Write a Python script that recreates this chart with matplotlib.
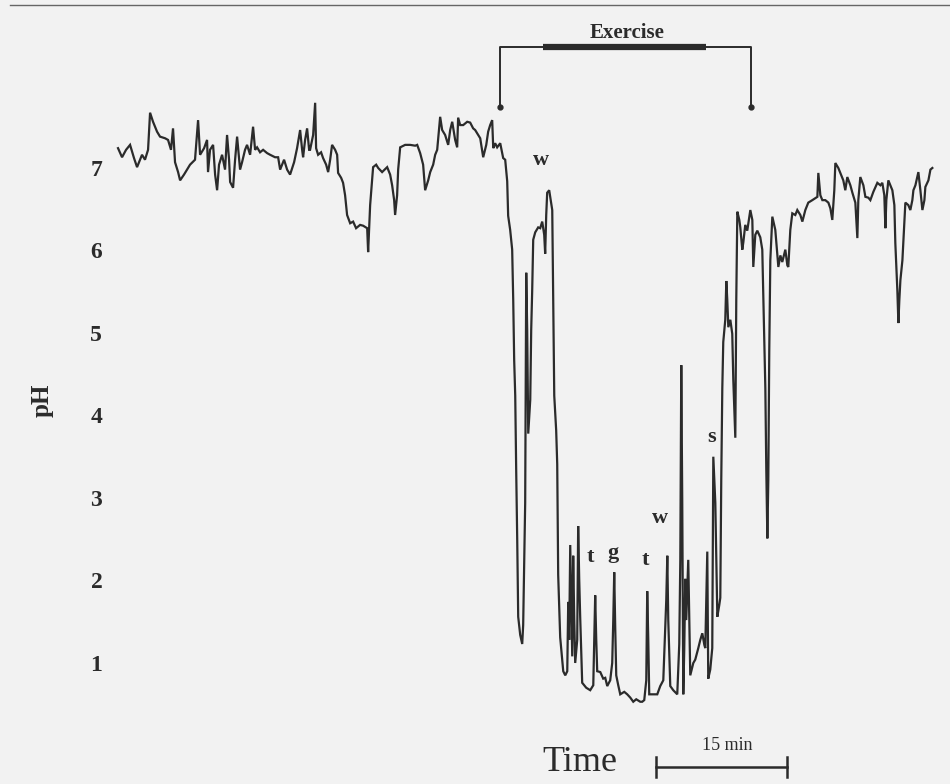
import numpy as np
import matplotlib
matplotlib.use('Agg')
import matplotlib.pyplot as plt
from matplotlib.lines import Line2D

plt.rcParams['font.family'] = ['Liberation Serif', 'DejaVu Serif']

# time (min) and oesophageal pH
time_min = [
    0.00, 0.46, 0.92, 1.38, 1.83, 2.18, 2.75, 3.09, 3.44, 3.67, 4.01, 4.47, 4.81, 5.39, 5.73,
    6.07, 6.30, 6.53, 6.88, 7.11, 7.56, 8.25, 8.82, 9.17, 9.40, 9.86, 10.20, 10.31, 10.54, 10.89,
    11.12, 11.35, 11.57, 11.92, 12.26, 12.49, 12.72, 12.84, 13.18, 13.41, 13.64, 13.98, 14.21, 14.55, 14.78,
    15.13, 15.47, 15.70, 15.93, 16.27, 16.62, 17.08, 17.42, 17.99, 18.34, 18.57, 19.02, 19.37, 19.71, 20.17,
    20.51, 20.86, 21.09, 21.20, 21.43, 21.66, 21.89, 22.00, 22.35, 22.58, 22.69, 22.92,
    23.26, 23.49, 23.84, 24.07, 24.30, 24.52, 24.87, 25.10, 25.21, 25.56, 25.78, 26.01, 26.24, 26.59, 26.93,
    27.27, 27.73, 28.08, 28.54, 28.65, 28.76, 28.88, 29.11, 29.22, 29.57, 29.80, 30.25, 30.83, 31.17, 31.40,
    31.63, 31.74, 31.97, 32.09, 32.32, 32.89, 33.46, 34.04, 34.27, 34.61, 34.95, 35.18, 35.53, 35.76, 36.10,
    36.33, 36.56, 36.90, 37.13, 37.47, 37.82, 38.05, 38.28, 38.62, 38.85, 38.96, 39.19, 39.54, 40.00, 40.34,
    40.68, 40.91, 41.26, 41.49, 41.83, 42.18, 42.40, 42.63, 42.86, 42.98, 43.20, 43.43, 43.78, 44.12, 44.35,
    44.58, 44.69, 44.92, 45.15,
    45.27, 45.38, 45.50, 45.61, 45.73, 45.84, 46.07, 46.30, 46.41, 46.53, 46.64, 46.76, 46.87, 46.99, 47.22,
    47.33, 47.44, 47.56, 47.79, 48.13, 48.36, 48.59, 48.82, 48.93, 49.05, 49.16, 49.39, 49.51, 49.74, 49.85,
    49.97, 50.19, 50.31, 50.42, 50.65, 50.88, 51.00, 51.23, 51.46, 51.57, 51.68, 51.80, 51.91, 52.03, 52.14,
    52.26, 52.37, 52.60, 52.71, 52.83, 52.94, 53.17, 53.63, 54.09, 54.44, 54.55, 54.66, 54.78, 54.89, 55.24,
    55.58, 55.81, 56.04, 56.38, 56.61, 56.73, 56.84, 56.96, 57.07, 57.30, 57.53, 57.99, 58.33, 58.68, 59.02,
    59.36, 59.82, 60.05, 60.28, 60.51, 60.62, 60.74, 60.85, 61.20, 61.77, 62.11, 62.46, 62.69, 62.80, 62.92,
    63.03, 63.26, 63.60, 64.06, 64.29, 64.41, 64.52, 64.63, 64.75, 64.86, 64.98, 65.09, 65.32, 65.44, 65.55,
    65.90, 66.12, 66.47, 66.70, 66.93, 67.16, 67.27, 67.38, 67.50, 67.61, 67.84, 68.07, 68.19, 68.30, 68.42,
    68.53, 68.65, 68.87, 68.99, 69.10, 69.22, 69.33, 69.56, 69.68, 69.79, 69.91, 70.14, 70.36, 70.48, 70.71,
    70.82, 70.94, 71.17, 71.28, 71.51, 71.63, 71.85, 72.08, 72.43, 72.66, 72.77, 73.00, 73.23, 73.57, 73.80,
    73.92, 74.15, 74.26, 74.38, 74.49, 74.60, 74.72, 74.95, 75.29, 75.64, 75.87, 76.09, 76.44, 76.67, 76.78,
    77.01, 77.24, 77.58, 77.81, 78.16, 78.39, 78.73, 79.07, 79.53, 80.11, 80.22, 80.45, 80.68, 81.02, 81.37,
    81.60, 81.82, 82.05, 82.17, 82.51, 82.74, 83.08, 83.31, 83.54, 83.89, 84.12, 84.46, 84.69, 84.80, 85.03,
    85.38, 85.61, 85.95, 86.18, 86.52, 86.98, 87.33, 87.55, 87.78, 87.90, 88.01, 88.24, 88.47, 88.70, 88.93,
    89.04, 89.27, 89.39, 89.50, 89.62, 89.85, 90.08, 90.19, 90.53, 90.76, 90.99, 91.11, 91.34, 91.68, 91.91,
    92.14, 92.37, 92.48, 92.83, 93.06, 93.28,
]
ph = [
    7.24, 7.13, 7.22, 7.28, 7.12, 7.01, 7.16, 7.10, 7.22, 7.67, 7.56, 7.44, 7.38, 7.36, 7.34,
    7.22, 7.48, 7.07, 6.95, 6.85, 6.92, 7.04, 7.10, 7.58, 7.16, 7.24, 7.34, 6.95, 7.22, 7.28,
    6.92, 6.73, 7.04, 7.16, 6.98, 7.40, 7.10, 6.83, 6.76, 7.10, 7.38, 6.98, 7.07, 7.22, 7.28,
    7.16, 7.50, 7.22, 7.25, 7.19, 7.22, 7.18, 7.16, 7.13, 7.13, 6.98, 7.10, 6.98, 6.92, 7.07,
    7.24, 7.46, 7.22, 7.13, 7.34, 7.48, 7.22, 7.22, 7.40, 7.79, 7.24, 7.16,
    7.19, 7.12, 7.04, 6.95, 7.10, 7.28, 7.22, 7.16, 6.94, 6.88, 6.82, 6.67, 6.43, 6.33, 6.35,
    6.27, 6.31, 6.30, 6.27, 5.98, 6.25, 6.55, 6.85, 7.01, 7.04, 7.00, 6.95, 7.01, 6.92, 6.79,
    6.61, 6.43, 6.67, 6.98, 7.25, 7.28, 7.28, 7.27, 7.28, 7.18, 7.04, 6.73, 6.85, 6.95, 7.04,
    7.16, 7.22, 7.62, 7.46, 7.40, 7.28, 7.46, 7.56, 7.34, 7.25, 7.61, 7.52, 7.52, 7.56, 7.55,
    7.48, 7.46, 7.40, 7.36, 7.13, 7.28, 7.44, 7.52, 7.58, 7.24, 7.30, 7.25, 7.30, 7.12, 7.10,
    6.84, 6.42, 6.25, 6.01,
    5.40, 4.67, 4.24, 3.34, 2.48, 1.56, 1.34, 1.23, 1.46, 2.25, 2.94, 5.73, 5.04, 3.78, 4.19,
    5.04, 5.50, 6.13, 6.22, 6.28, 6.27, 6.35, 6.19, 5.96, 6.43, 6.70, 6.73, 6.65, 6.49, 5.40,
    4.24, 3.82, 3.41, 2.07, 1.31, 1.04, 0.90, 0.85, 0.90, 1.74, 1.28, 2.43, 1.76, 1.08, 2.30,
    1.52, 1.00, 1.28, 2.66, 2.01, 1.56, 0.76, 0.70, 0.67, 0.73, 1.28, 1.82, 1.28, 0.90, 0.89,
    0.81, 0.82, 0.72, 0.79, 1.00, 1.52, 2.10, 1.40, 0.85, 0.73, 0.62, 0.65, 0.62, 0.58, 0.53,
    0.56, 0.53, 0.53, 0.55, 0.79, 1.87, 1.28, 0.62, 0.62, 0.62, 0.72, 0.79, 1.46, 1.76, 2.30,
    1.52, 0.72, 0.67, 0.62, 1.23, 2.25, 4.61, 2.98, 0.62, 1.16, 2.02, 1.52, 2.25, 1.52, 0.85,
    1.00, 1.04, 1.18, 1.28, 1.36, 1.22, 1.18, 1.76, 2.35, 0.81, 0.92, 1.18, 3.50, 3.22, 2.94,
    2.25, 1.56, 1.70, 1.79, 3.22, 4.33, 4.89, 5.16, 5.63, 5.40, 5.07, 5.16, 4.99, 4.43, 3.73,
    5.40, 6.47, 6.37, 6.28, 6.01, 6.10, 6.31, 6.24, 6.49, 6.37, 5.80, 6.19, 6.24, 6.16, 6.01,
    5.45, 4.33, 3.34, 2.51, 3.22, 4.79, 5.88, 6.41, 6.25, 5.80, 5.94, 5.86, 6.01, 5.82, 5.80,
    6.25, 6.45, 6.43, 6.49, 6.43, 6.35, 6.49, 6.58, 6.61, 6.65, 6.94, 6.67, 6.61, 6.61, 6.58,
    6.51, 6.37, 6.73, 7.06, 7.00, 6.94, 6.85, 6.73, 6.89, 6.79, 6.70, 6.58, 6.15, 6.61, 6.89,
    6.79, 6.65, 6.64, 6.61, 6.71, 6.82, 6.79, 6.82, 6.67, 6.27, 6.61, 6.85, 6.79, 6.73, 6.55,
    6.09, 5.52, 5.12, 5.40, 5.64, 5.88, 6.37, 6.58, 6.55, 6.49, 6.61, 6.73, 6.79, 6.95, 6.73,
    6.49, 6.61, 6.77, 6.85, 6.98, 7.00,
]

ph_ticks = [1, 2, 3, 4, 5, 6, 7]

# event letters on the trace
event_labels = ['w', 't', 'g', 't', 'w', 's']
event_time = [48.48, 54.09, 56.73, 60.39, 62.11, 67.96]
event_ph = [7.10, 2.28, 2.33, 2.25, 2.76, 3.74]

exercise_start, exercise_end = 43.78, 72.51
exercise_bar = (48.68, 67.36)
scale_start, scale_len = 61.63, 15

ink = '#2b2b2b'
paper = '#f2f2f2'

fig = plt.figure(figsize=(9.5, 7.84), dpi=100, facecolor=paper)
ax = fig.add_axes([112/950, 0, 833/950, 1])
ax.set_facecolor(paper)

ax.plot(time_min, ph, color=ink, lw=1.6, solid_joinstyle='miter')

ax.set_xlim(-0.69, 94.73)
ax.set_ylim(-0.467, 9.036)
for s in ax.spines.values():
    s.set_visible(False)
ax.set_xticks([])
ax.set_yticks(ph_ticks)
ax.set_yticklabels([str(v) for v in ph_ticks], fontsize=17, fontweight='bold', color=ink)
ax.tick_params(axis='y', length=0, pad=7)

fig.text(42/950, 1 - 400/784, 'pH', rotation=90, ha='center', va='center',
         fontsize=18, fontweight='bold', color=ink)

# event letters
for lab, tx, ty in zip(event_labels, event_time, event_ph):
    ax.text(tx, ty, lab, ha='center', va='center', fontsize=16, fontweight='bold', color=ink)

# exercise bracket
ytop, ybot = 8.47, 7.74
ax.plot([exercise_start, exercise_start, exercise_end, exercise_end],
        [ybot, ytop, ytop, ybot], color=ink, lw=1.4, clip_on=False)
ax.plot([exercise_start, exercise_end], [ybot, ybot], 'o', color=ink, ms=3.5)
ax.plot(exercise_bar, [ytop, ytop], color=ink, lw=4.5, solid_capstyle='butt')
ax.text((exercise_start + exercise_end) / 2 + 0.2, 8.64, 'Exercise', ha='center', va='center',
        fontsize=15, fontweight='bold', color=ink)

# time scale bar
ybar = -0.26
ax.plot([scale_start, scale_start + scale_len], [ybar, ybar], color=ink, lw=1.8, clip_on=False)
for xb in (scale_start, scale_start + scale_len):
    ax.plot([xb, xb], [ybar - 0.12, ybar + 0.12], color=ink, lw=1.8, clip_on=False)
ax.text(scale_start + scale_len / 2 + 0.6, 0.0, '15 min', ha='center', va='center',
        fontsize=13, color=ink)
ax.text(52.94, -0.21, 'Time', ha='center', va='center', fontsize=26, color=ink)

# thin rule along the top of the scan
fig.add_artist(Line2D([10/950, 1], [1 - 5/784, 1 - 5/784], color='#666666', lw=1))

fig.savefig('out.png', dpi=100, facecolor=paper)
